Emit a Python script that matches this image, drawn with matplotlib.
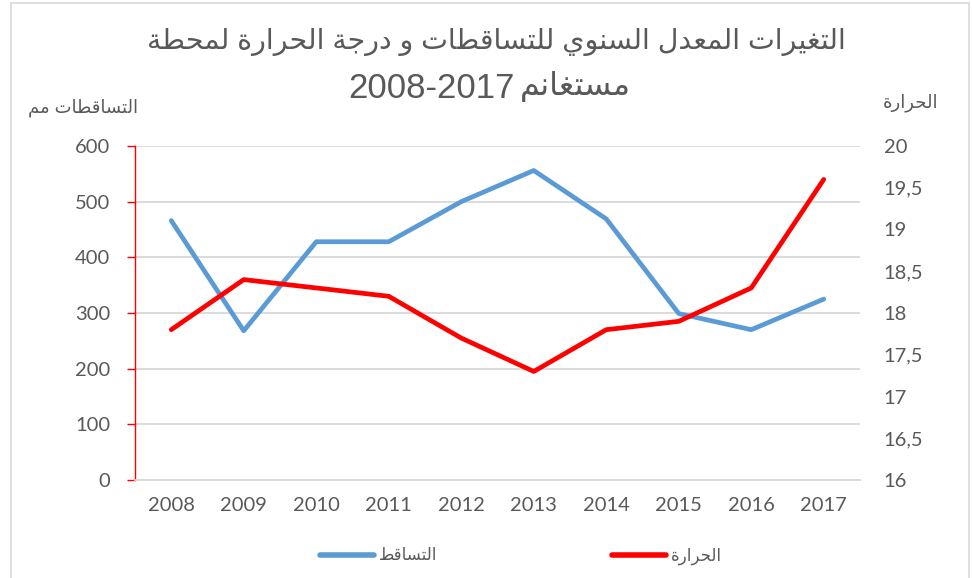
import matplotlib
matplotlib.use("Agg")
import matplotlib.pyplot as plt
from matplotlib.lines import Line2D

# ---------------- data ----------------
years = ["2008", "2009", "2010", "2011", "2012", "2013", "2014", "2015", "2016", "2017"]
precip = [466, 268, 428, 428, 500, 556, 469, 299, 270, 325]
temp = [17.8, 18.4, 18.3, 18.2, 17.7, 17.3, 17.8, 17.9, 18.3, 19.6]
left_ticks = [0, 100, 200, 300, 400, 500, 600]
right_ticks = [16, 16.5, 17, 17.5, 18, 18.5, 19, 19.5, 20]

title_l1 = "التغيرات المعدل السنوي للتساقطات و درجة الحرارة لمحطة"
title_l2_ar = "مستغانم"
title_l2_num = "2008-2017"
left_label = "التساقطات مم"
right_label = "الحرارة"
legend_precip = "التساقط"
legend_temp = "الحرارة"

# ------------- minimal Arabic shaping (visual order) -------------
_DUAL = {'ت': 0xFE95, 'ج': 0xFE9D, 'ح': 0xFEA1, 'س': 0xFEB1, 'ط': 0xFEC1,
         'ع': 0xFEC9, 'غ': 0xFECD, 'ق': 0xFED5, 'ل': 0xFEDD, 'م': 0xFEE1,
         'ن': 0xFEE5, 'ي': 0xFEF1, 'ب': 0xFE8F, 'ه': 0xFEE9, 'ك': 0xFED9,
         'ف': 0xFED1, 'ص': 0xFEB9, 'ش': 0xFEB5}
_RIGHT = {'ا': 0xFE8D, 'ة': 0xFE93, 'د': 0xFEA9, 'ر': 0xFEAD, 'و': 0xFEED,
          'ز': 0xFEAF, 'ذ': 0xFEAB}


def ar(s):
    out = []
    n = len(s)
    for i, c in enumerate(s):
        if c in _DUAL:
            base = _DUAL[c]
        elif c in _RIGHT:
            base = _RIGHT[c]
        else:
            out.append(c)
            continue
        jp = i > 0 and s[i - 1] in _DUAL
        jn = c in _DUAL and i < n - 1 and (s[i + 1] in _DUAL or s[i + 1] in _RIGHT)
        if jp and jn:
            off = 3
        elif jp:
            off = 1
        elif jn:
            off = 2
        else:
            off = 0
        out.append(chr(base + off))
    return "".join(out[::-1])


plt.rcParams['font.family'] = ['Liberation Sans', 'DejaVu Sans']

GRAY = "#595959"
BLUE = "#5B9BD5"
RED = "#FF0000"
GRID = "#D9D9D9"

fig = plt.figure(figsize=(9.72, 5.78), dpi=100)
W, H = 972, 578

# outer chart border
fig.patches.append(plt.Rectangle((10.5 / W, -0.01), (969 - 10.5) / W, (H - 3) / H + 0.01,
                                 transform=fig.transFigure, fill=False,
                                 edgecolor=GRID, linewidth=1.2))

ax = fig.add_axes([135 / W, (H - 480) / H, (860 - 135) / W, (480 - 146) / H])
ax2 = ax.twinx()

x = list(range(len(years)))
ax.plot(x, precip, color=BLUE, lw=3.4, solid_capstyle='round', solid_joinstyle='round', zorder=3)
ax2.plot(x, temp, color=RED, lw=3.4, solid_capstyle='round', solid_joinstyle='round', zorder=3)

ax.set_xlim(-0.5, len(years) - 0.5)
ax.set_ylim(0, 600)
ax2.set_ylim(16, 20)

ax.set_yticks(left_ticks)
ax.set_yticklabels([str(v) for v in left_ticks], fontfamily=['Lato', 'DejaVu Sans'],
                   fontsize=14.5, color=GRAY)
ax2.set_yticks(right_ticks)
ax2.set_yticklabels([("%g" % v).replace('.', ',') for v in right_ticks],
                    fontfamily=['Lato', 'DejaVu Sans'], fontsize=14.5, color=GRAY)
ax.set_xticks(x)
ax.set_xticklabels(years, fontfamily=['Lato', 'DejaVu Sans'], fontsize=14.5, color=GRAY)

ax.grid(axis='y', color=GRID, lw=1.3)
ax.set_axisbelow(True)
for sp in ['top', 'right']:
    ax.spines[sp].set_visible(False)
for sp in ['top', 'right', 'left', 'bottom']:
    ax2.spines[sp].set_visible(False)
ax.spines['bottom'].set_color(GRID)
ax.spines['bottom'].set_linewidth(1.3)
ax.spines['left'].set_color(RED)
ax.spines['left'].set_linewidth(1.0)
ax.tick_params(axis='y', colors=RED, length=6, width=1.0, pad=12, labelcolor=GRAY)
ax.tick_params(axis='x', length=0, pad=12)
ax2.tick_params(axis='y', length=0, pad=17, labelcolor=GRAY)

# titles
fig.text(496 / W, 1 - 42 / H, ar(title_l1), ha='center', va='center', fontsize=20.5, color=GRAY)
fig.text(515 / W, 1 - 89 / H, title_l2_num, ha='right', va='center', fontsize=25, color=GRAY)
fig.text(520 / W, 1 - 86 / H, ar(title_l2_ar), ha='left', va='center', fontsize=23, color=GRAY)

# axis labels
fig.text(83 / W, 1 - 108 / H, ar(left_label), ha='center', va='center', fontsize=13, color=GRAY)
fig.text(910 / W, 1 - 103 / H, ar(right_label), ha='center', va='center', fontsize=13, color=GRAY)

# legend
handles = [Line2D([], [], color=BLUE, lw=4, solid_capstyle='round'),
           Line2D([], [], color=RED, lw=4, solid_capstyle='round')]
fig.legend(handles, [ar(legend_precip), ar(legend_temp)], loc='center',
           bbox_to_anchor=(521 / W, 1 - 556 / H), ncol=2, frameon=False,
           fontsize=12, labelcolor=GRAY, handlelength=3.2, handletextpad=0.3,
           columnspacing=10.5)

fig.savefig("out.png", dpi=100)
